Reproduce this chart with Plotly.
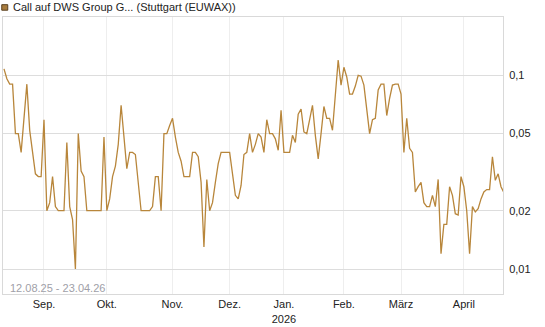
import math
import pandas as pd
import plotly.graph_objects as go

# trading calendar (Stuttgart / EUWAX)
start_date = "2025-08-12"
end_date = "2026-04-23"
holidays = ["2025-12-24", "2025-12-25", "2025-12-26", "2025-12-31",
            "2026-01-01", "2026-04-03", "2026-04-06"]

# closing prices per month (EUR)
aug = [0.108, 0.096, 0.09, 0.09, 0.05, 0.05, 0.04, 0.063, 0.09, 0.052,
       0.04, 0.031, 0.03, 0.03]
sep = [0.059, 0.02, 0.022, 0.03, 0.021, 0.02, 0.02, 0.02, 0.045, 0.021,
       0.018, 0.01, 0.05, 0.032, 0.03, 0.02, 0.02, 0.02, 0.02, 0.02,
       0.02, 0.048]
okt = [0.02, 0.023, 0.03, 0.034, 0.044, 0.07, 0.046, 0.033, 0.04, 0.04,
       0.039, 0.028, 0.02, 0.02, 0.02, 0.02, 0.021, 0.03, 0.03, 0.02,
       0.05, 0.05, 0.055]
nov = [0.06, 0.048, 0.04, 0.036, 0.03, 0.03, 0.03, 0.04, 0.04, 0.038,
       0.028, 0.013, 0.029, 0.02, 0.022, 0.028, 0.035, 0.04, 0.04, 0.04]
dez = [0.04, 0.031, 0.024, 0.023, 0.027, 0.039, 0.04, 0.05, 0.04, 0.044,
       0.05, 0.048, 0.04, 0.059, 0.05, 0.05, 0.047, 0.041, 0.066]
jan = [0.04, 0.04, 0.04, 0.049, 0.045, 0.063, 0.067, 0.051, 0.05, 0.059,
       0.07, 0.049, 0.037, 0.05, 0.069, 0.06, 0.06, 0.052, 0.076, 0.12,
       0.089]
feb = [0.11, 0.098, 0.08, 0.08, 0.088, 0.1, 0.099, 0.089, 0.066, 0.05,
       0.059, 0.06, 0.084, 0.09, 0.09, 0.062, 0.076, 0.089, 0.09, 0.09]
mar = [0.08, 0.04, 0.06, 0.042, 0.04, 0.025, 0.0266, 0.028, 0.022, 0.021,
       0.021, 0.024, 0.021, 0.029, 0.012, 0.017, 0.017, 0.0266, 0.024,
       0.0193, 0.019, 0.03]
apr = [0.0266, 0.02, 0.012, 0.021, 0.0197, 0.0205, 0.023, 0.025, 0.0257,
       0.0257, 0.038, 0.0287, 0.031, 0.0266, 0.0248]

tick_dates = ["2025-09-01", "2025-10-01", "2025-11-03", "2025-12-01",
              "2026-01-02", "2026-02-02", "2026-03-02", "2026-04-01"]
tick_labels = ["Sep.", "Okt.", "Nov.", "Dez.", "Jan.<br>2026", "Feb.",
               "März", "April"]
y_ticks = [0.01, 0.02, 0.05, 0.1]
y_labels = ["0,01", "0,02", "0,05", "0,1"]

series_name = "Call auf DWS Group G... (Stuttgart (EUWAX))"
period_label = "12.08.25 - 23.04.26"

dates = [d.strftime("%Y-%m-%d") for d in
         pd.bdate_range(start_date, end_date, freq="C", holidays=holidays)]
prices = aug + sep + okt + nov + dez + jan + feb + mar + apr
n = min(len(dates), len(prices))
dates, prices = dates[:n], prices[:n]

LINE = "#B8863B"
FONT = "Liberation Sans, Arial, sans-serif"

fig = go.Figure()
fig.add_trace(go.Scatter(x=dates, y=prices, mode="lines",
                         line=dict(color=LINE, width=1.3),
                         showlegend=False, hoverinfo="x+y"))

fig.update_layout(
    width=545, height=327,
    margin=dict(l=3, r=42, t=17, b=33),
    paper_bgcolor="white", plot_bgcolor="white",
    font=dict(family=FONT, size=11, color="#222"),
    xaxis=dict(type="category", range=[-0.35, n - 1.3],
               tickmode="array", tickvals=tick_dates, ticktext=tick_labels,
               showgrid=True, gridcolor="#eeeeee", gridwidth=1,
               showline=True, linecolor="#d9d9d9", linewidth=1, mirror=True,
               ticks="", tickfont=dict(size=11, color="#222")),
    yaxis=dict(type="log", side="right",
               range=[math.log10(0.00743), math.log10(0.2)],
               tickmode="array", tickvals=y_ticks, ticktext=y_labels,
               showgrid=True, gridcolor="#dddddd", gridwidth=1,
               showline=True, linecolor="#d9d9d9", linewidth=1, mirror=True,
               zeroline=False, ticks="", ticklabelstandoff=3,
               tickfont=dict(size=11, color="#222")),
)

# legend marker and text
fig.add_shape(type="rect", xref="paper", yref="paper",
              x0=-0.0025, x1=0.0095, y0=1.0245, y1=1.0445,
              fillcolor="#A97D3F", line=dict(color="#5a4020", width=1))
fig.add_annotation(xref="paper", yref="paper", x=0.0155, y=1.036,
                   xanchor="left", yanchor="middle", showarrow=False,
                   text=series_name, font=dict(size=11, color="#222"))
fig.add_annotation(xref="paper", yref="paper", x=0.0095, y=0.023,
                   xanchor="left", yanchor="middle", showarrow=False,
                   text=period_label, font=dict(size=11, color="#a0a0a8"))

fig.write_html("out.html")
